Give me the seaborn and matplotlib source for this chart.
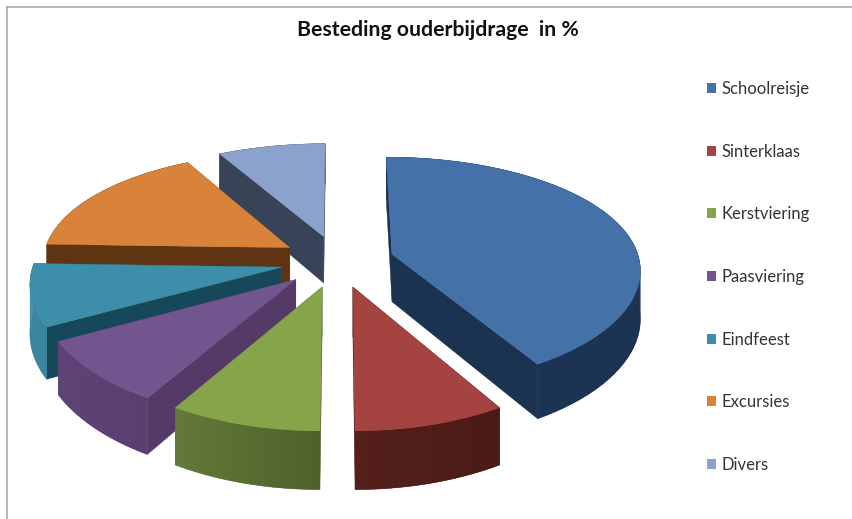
import numpy as np
import seaborn as sns
import matplotlib.pyplot as plt
from matplotlib.colors import to_rgb
from matplotlib.patches import Patch

categories = ['Schoolreisje', 'Sinterklaas', 'Kerstviering', 'Paasviering', 'Eindfeest', 'Excursies', 'Divers']
values = [41.5, 8.5, 8.5, 8.5, 8.5, 16.5, 8.0]

top_hex = ['#4371a8', '#a54340', '#86a44a', '#72548f', '#3d8fa9', '#d9823a', '#8ba3cc']
radial_hex = ['#1b3250', '#4a1a17', '#4f6029', '#533a67', '#17485a', '#5e3412', '#384358']
outer_start_hex = ['#1b3250', '#4a1a17', '#4f6029', '#59406f', '#3a86a0', '#5e3412', '#384358']
outer_end_hex = ['#1c3453', '#55201c', '#647b3a', '#5f4478', '#3a86a0', '#5e3412', '#384358']

sns.set_theme(style='white')
plt.rcParams['font.family'] = ['Lato', 'DejaVu Sans']
top_colors = sns.color_palette(top_hex)

# Projection settings for the tilted pie, in pixels of the figure
center_x, center_y = 337.5, 261
radius_x, radius_y = 247.5, 113.5
perspective_x, perspective_y = 0.12, 0.15
depth = 48
explode = 0.23


def project(x, y, z):
    # z = 0 is the top face, z = -1 the bottom
    sx = center_x + radius_x * x / (1 + perspective_x * y)
    sy = center_y - (radius_y * y + depth * z) / (1 + perspective_y * y)
    return sx, sy


fig = plt.figure(figsize=(8.53, 5.19), dpi=100)
ax = fig.add_axes([7.5 / 853, 0, 845.5 / 853, 512.5 / 519])
ax.set_xlim(7.5, 853)
ax.set_ylim(519, 6.5)
ax.set_xticks([])
ax.set_yticks([])
for side in ['right', 'bottom']:
    ax.spines[side].set_visible(False)
for side in ['left', 'top']:
    ax.spines[side].set_color('#a9a9a9')
    ax.spines[side].set_linewidth(1.2)

edges = np.cumsum([0] + values) / sum(values) * 2 * np.pi
wedges = []
for i in range(len(values)):
    theta = np.linspace(edges[i], edges[i + 1], 60)
    mid = (edges[i] + edges[i + 1]) / 2
    ox, oy = explode * np.sin(mid), explode * np.cos(mid)
    wedges.append((oy, i, theta, ox, oy))

# Back slices first so the front ones paint over them
for _, i, theta, ox, oy in sorted(wedges, key=lambda w: -w[0]):
    px = ox + np.sin(theta)
    py = oy + np.cos(theta)

    # straight cut faces
    for k in [0, -1]:
        fx = np.array([ox, px[k], px[k], ox])
        fy = np.array([oy, py[k], py[k], oy])
        sx, sy = project(fx, fy, np.array([0, 0, -1, -1]))
        ax.fill(sx, sy, color=radial_hex[i], lw=0.3)

    # rounded outer face: one base shape, then shaded along the arc
    c0, c1 = np.array(to_rgb(outer_start_hex[i])), np.array(to_rgb(outer_end_hex[i]))
    sx, sy = project(np.r_[px, px[::-1]], np.r_[py, py[::-1]],
                     np.r_[np.zeros(len(px)), -np.ones(len(px))])
    ax.fill(sx, sy, color=tuple((c0 + c1) / 2), lw=0.3)
    for k in range(len(theta) - 1):
        fx = np.array([px[k], px[k + 1], px[k + 1], px[k]])
        fy = np.array([py[k], py[k + 1], py[k + 1], py[k]])
        sx, sy = project(fx, fy, np.array([0, 0, -1, -1]))
        ax.fill(sx, sy, facecolor=tuple(c0 + (c1 - c0) * k / (len(theta) - 2)), edgecolor='none', lw=0)

    # top face
    sx, sy = project(np.r_[ox, px], np.r_[oy, py], np.zeros(len(px) + 1))
    ax.fill(sx, sy, color=top_colors[i], lw=0.3)

ax.text(437.5, 30, 'Besteding ouderbijdrage  in %', ha='center', va='center',
        fontsize=15.3, fontweight='bold', color='#111111')

handles = [Patch(facecolor=c, edgecolor='none') for c in top_colors]
ax.legend(handles, categories, loc='upper left', bbox_to_anchor=(707 / 853, 1 - 81 / 519),
          bbox_transform=fig.transFigure, frameon=False, fontsize=12, labelcolor='#333333',
          labelspacing=2.8, handlelength=0.55, handleheight=0.55, handletextpad=0.3,
          borderpad=0, borderaxespad=0)

fig.savefig('out.png', dpi=100)
